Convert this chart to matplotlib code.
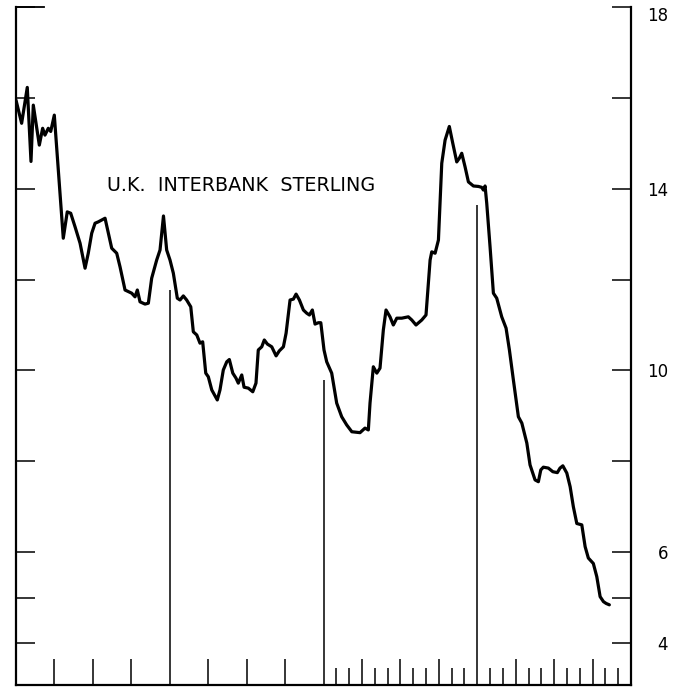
import matplotlib
matplotlib.use("Agg")
import matplotlib.pyplot as plt
from matplotlib.transforms import blended_transform_factory

# ---- data (months from start of the 4-year span, rate in percent) ----
months = [0.00, 0.44, 0.88, 1.17, 1.35, 1.82, 2.08, 2.26, 2.52, 2.71, 2.99, 3.69,
          4.00, 4.27, 4.61, 5.00, 5.39, 5.64, 5.91, 6.17, 6.42, 6.95, 7.21, 7.47,
          7.86, 8.12, 8.51, 9.03, 9.29, 9.47, 9.68, 10.07, 10.33, 10.59, 10.98, 11.24,
          11.51, 11.76, 12.02, 12.28, 12.59, 12.80, 13.06, 13.32, 13.64, 13.84, 14.11,
          14.36, 14.57, 14.81, 15.01, 15.28, 15.71, 15.92, 16.18, 16.45, 16.65, 16.92,
          17.17, 17.35, 17.62, 17.80, 18.13, 18.48, 18.73, 18.91, 19.18, 19.38, 19.62,
          19.96, 20.30, 20.55, 20.87, 21.08, 21.39, 21.65, 21.86, 22.12, 22.43, 22.69,
          22.90, 23.13, 23.34, 23.60, 23.79, 24.04, 24.25, 24.64, 25.03, 25.42, 25.81,
          26.21, 26.85, 27.24, 27.50, 27.63, 27.89, 28.16, 28.41, 28.67, 28.88, 29.19,
          29.45, 29.72, 30.11, 30.62, 30.89, 31.22, 31.67, 32.00, 32.32, 32.45, 32.71,
          32.97, 33.23, 33.49, 33.82, 34.09, 34.40, 34.60, 34.79, 35.05, 35.31, 35.70,
          36.09, 36.35, 36.48, 36.61, 36.74, 37.00, 37.26, 37.52, 37.91, 38.25, 38.51,
          38.82, 39.21, 39.48, 39.87, 40.12, 40.51, 40.77, 40.96, 41.16, 41.55, 41.90,
          42.25, 42.46, 42.68, 42.99, 43.25, 43.50, 43.77, 44.16, 44.42, 44.67, 45.06,
          45.33, 45.59, 45.85, 46.06, 46.31]
rates = [15.95, 15.44, 16.23, 14.60, 15.84, 14.96, 15.33, 15.18, 15.33, 15.26, 15.62, 12.91,
         13.49, 13.46, 13.16, 12.80, 12.25, 12.58, 13.02, 13.24, 13.27, 13.35, 13.02, 12.69,
         12.58, 12.28, 11.77, 11.70, 11.62, 11.77, 11.51, 11.46, 11.48, 12.03, 12.43, 12.65,
         13.40, 12.65, 12.43, 12.14, 11.59, 11.55, 11.64, 11.55, 11.40, 10.85, 10.78,
         10.60, 10.63, 9.94, 9.86, 9.57, 9.35, 9.57, 10.01, 10.19, 10.24, 9.94,
         9.83, 9.72, 9.90, 9.63, 9.61, 9.53, 9.72, 10.45, 10.52, 10.67, 10.58,
         10.52, 10.32, 10.43, 10.52, 10.82, 11.55, 11.57, 11.68, 11.55, 11.33, 11.26,
         11.22, 11.33, 11.02, 11.05, 11.05, 10.45, 10.19, 9.94, 9.28, 8.98, 8.80,
         8.65, 8.63, 8.73, 8.69, 9.28, 10.08, 9.94, 10.05, 10.89, 11.33, 11.18,
         11.00, 11.15, 11.15, 11.18, 11.11, 11.00, 11.11, 11.22, 12.43, 12.61, 12.58,
         12.87, 14.56, 15.07, 15.37, 15.00, 14.59, 14.67, 14.78, 14.48, 14.15, 14.06,
         14.05, 14.03, 13.97, 14.06, 13.68, 12.72, 11.70, 11.59, 11.18, 10.93, 10.45,
         9.79, 8.98, 8.84, 8.40, 7.92, 7.59, 7.55, 7.81, 7.87, 7.85, 7.77,
         7.75, 7.85, 7.90, 7.74, 7.44, 7.00, 6.63, 6.60, 6.12, 5.87, 5.75,
         5.46, 5.02, 4.91, 4.87, 4.84]

year_lines = [12, 24, 36]
year_line_tops = [11.77, 9.78, 13.64]

y_ticks = [4, 5, 6, 8, 10, 12, 14, 16, 18]
y_tick_labels = ["4", "", "6", "", "10", "", "14", "", "18"]
quarter_ticks = [3, 6, 9, 15, 18, 21, 27, 30, 33, 39, 42, 45]
month_ticks = [25, 26, 28, 29, 31, 32, 34, 35, 37, 38, 40, 41, 43, 44, 46, 47]
title = "U.K.  INTERBANK  STERLING"

# ---- figure ----
W, H = 684, 689
fig = plt.figure(figsize=(W / 100, H / 100), dpi=100)
ax = fig.add_axes([16 / W, 4 / H, 615 / W, 678 / H])
ax.set_xlim(0, 48)
ax.set_ylim(3.075, 18)

ax.plot(months, rates, color="black", lw=2.3, solid_joinstyle="round",
        solid_capstyle="round", zorder=3)
ax.vlines(year_lines, 3.075, year_line_tops, color="black", lw=1.1, zorder=2)

for s in ["left", "right", "bottom"]:
    ax.spines[s].set_linewidth(1.6)
ax.spines["top"].set_visible(False)

# y axis: ticks inside on both sides, labels on right
ax.set_yticks(y_ticks)
ax.set_yticklabels(y_tick_labels)
ax.tick_params(axis="y", which="major", direction="in", left=True, right=True,
               labelleft=False, labelright=True, length=13.5, width=1.1,
               pad=26.6, labelsize=12)
for t in ax.yaxis.get_major_ticks():
    t.label2.set_horizontalalignment("right")
    t.label2.set_fontfamily("DejaVu Sans")
ax.yaxis.get_major_ticks()[-1].label2.set_verticalalignment("top")

# x axis: quarter and month ticks inside, no labels
ax.set_xticks(quarter_ticks)
ax.set_xticks(month_ticks, minor=True)
ax.tick_params(axis="x", which="major", direction="in", length=19, width=1.1,
               labelbottom=False)
ax.tick_params(axis="x", which="minor", direction="in", length=12, width=1.1,
               labelbottom=False)

# short top-left rule at 18
tr = blended_transform_factory(ax.transAxes, ax.transData)
ax.plot([0, 0.046], [18, 18], color="black", lw=1.3, transform=tr, clip_on=False)

ax.text(17.6, 14.08, title, fontsize=13.8, family="DejaVu Sans",
        ha="center", va="center", color="black")

fig.savefig("out.png", dpi=100)
